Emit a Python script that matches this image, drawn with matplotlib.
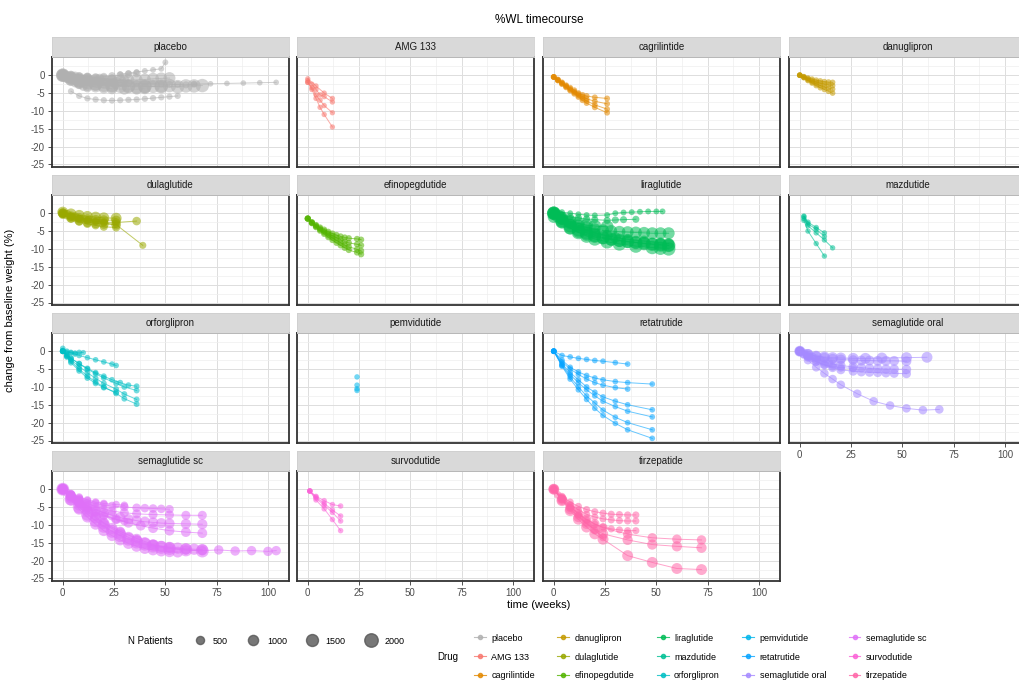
import numpy as np
import matplotlib.pyplot as plt
from matplotlib.lines import Line2D

plt.rcParams['font.family'] = ['Liberation Sans', 'DejaVu Sans']
plt.rcParams['axes.unicode_minus'] = False

drugs = ['placebo', 'AMG 133', 'cagrilintide', 'danuglipron', 'dulaglutide',
         'efinopegdutide', 'liraglutide', 'mazdutide', 'orforglipron', 'pemvidutide',
         'retatrutide', 'semaglutide oral', 'semaglutide sc', 'survodutide', 'tirzepatide']
drug_colors = ['#B0B0B0', '#F8766D', '#E38900', '#C49A00', '#99A800', '#53B400', '#00BC56',
               '#00C094', '#00BFC4', '#00B6EB', '#06A4FF', '#A58AFF', '#DF70F8', '#FB61D7', '#FF66A8']

# each drug: list of study arms -> weeks, %WL, N patients
placebo_weeks = [
    [0, 4, 8, 12, 16, 20, 24, 28, 32, 36, 40, 44, 48, 52, 56, 60, 64],
    [64, 72, 80, 88, 96, 104],
    [4, 8, 12, 16, 20, 24, 28, 32, 36, 40, 44, 48, 52, 56],
    [0, 2, 4, 8, 12, 16, 20, 26],
    [0, 4, 8, 12, 16, 20, 24, 28, 32, 36, 40, 44, 48, 52],
    [0, 4, 8, 12, 16, 20, 24, 30, 36, 40],
    [0, 6, 12, 18, 24, 30],
    [0, 4, 8, 12, 16, 20, 24, 28, 32, 36, 40, 44, 48, 52],
    [0, 2, 4, 6, 8, 10, 12],
    [28, 32, 36, 40, 44, 48, 50],
    [0, 8, 16, 24, 32, 40, 48, 56, 60, 64, 68],
    [0, 4, 8, 12, 16, 20, 24, 28, 32, 36],
]
placebo_wl = [
    [0, -0.6, -1.0, -1.3, -1.6, -1.8, -2.0, -2.1, -2.2, -2.3, -2.4, -2.4, -2.5, -2.6, -2.6, -2.7, -2.5],
    [-2.5, -2.4, -2.3, -2.2, -2.1, -2.0],
    [-4.5, -5.8, -6.5, -6.8, -7.0, -7.1, -7.0, -6.9, -6.8, -6.6, -6.4, -6.2, -6.0, -5.8],
    [0, -0.5, -0.8, -1.2, -1.5, -1.8, -2.0, -2.2],
    [0, -1.0, -1.6, -2.1, -2.5, -2.8, -3.0, -3.1, -3.2, -3.3, -3.2, -3.1, -3.0, -2.9],
    [0, -1.5, -2.3, -2.9, -3.3, -3.6, -3.8, -3.9, -3.9, -3.8],
    [0, -0.3, -0.6, -0.9, -1.1, -1.2],
    [0, -0.5, -0.9, -1.2, -1.3, -1.4, -1.5, -1.5, -1.4, -1.3, -1.2, -1.0, -0.9, -0.8],
    [0, -0.8, -1.5, -2.2, -2.7, -3.2, -3.6],
    [0.3, 0.6, 0.9, 1.2, 1.5, 1.8, 3.6],
    [0, -1.6, -2.4, -2.8, -3.0, -3.1, -3.2, -3.2, -3.0, -3.0, -2.9],
    [0.5, 0.2, -0.2, -0.4, -0.5, -0.4, -0.2, 0.0, 0.3, 0.5],
]
placebo_n = [300, 60, 150, 1500, 2000, 1200, 800, 1500, 600, 100, 2000, 400]

amg_weeks = [[0, 2, 4, 6, 8, 12], [0, 2, 4, 6, 8, 12], [0, 2, 4, 6, 8, 12], [0, 4, 8, 12]]
amg_wl = [[-1.5, -2.5, -4.0, -5.5, -6.0, -7.5],
          [-2.0, -3.5, -5.5, -7.0, -8.5, -10.5],
          [-2.0, -4.0, -6.5, -9.0, -11.0, -14.5],
          [-1.0, -3.0, -5.0, -6.5]]
amg_n = [20, 20, 20, 20]

cagri_weeks = [[0, 2, 4, 6, 8, 10, 12, 14, 16, 20, 26]] * 4
cagri_wl = [[-0.5, -1.2, -2.0, -2.8, -3.5, -4.2, -5.0, -5.5, -5.8, -6.2, -6.5],
            [-0.5, -1.3, -2.2, -3.0, -3.8, -4.6, -5.3, -6.0, -6.6, -7.3, -8.0],
            [-0.5, -1.4, -2.3, -3.2, -4.1, -4.9, -5.7, -6.5, -7.2, -8.3, -9.5],
            [-0.5, -1.5, -2.5, -3.4, -4.3, -5.2, -6.1, -7.0, -7.8, -9.0, -10.5]]
cagri_n = [90, 90, 90, 90]

danu_weeks = [[0, 2, 4, 6, 8, 10, 12, 14, 16]] * 4
danu_wl = [[0, -0.4, -0.8, -1.1, -1.4, -1.6, -1.8, -1.9, -2.0],
           [0, -0.5, -1.0, -1.5, -1.9, -2.2, -2.5, -2.7, -2.9],
           [0, -0.6, -1.3, -1.9, -2.4, -2.9, -3.3, -3.6, -3.9],
           [0, -0.7, -1.5, -2.2, -2.9, -3.5, -4.0, -4.5, -5.0]]
danu_n = [60, 60, 60, 60]

dula_weeks = [[0, 2, 4, 6, 8, 12, 16, 20, 26],
              [0, 4, 8, 12, 16, 20, 26, 36],
              [0, 4, 8, 12, 16, 20, 26],
              [0, 4, 8, 12, 16, 20, 26],
              [0, 4, 8, 12, 16, 20, 26, 39],
              [0, 4, 8, 12, 16, 20, 26]]
dula_wl = [[0, -0.4, -0.8, -1.1, -1.3, -1.6, -1.8, -1.9, -2.0],
           [0, -1.0, -1.6, -2.0, -2.3, -2.5, -2.6, -2.2],
           [0, -1.3, -2.0, -2.5, -2.8, -3.0, -3.2],
           [-0.5, -1.5, -2.4, -3.0, -3.4, -3.8, -4.0],
           [0, -0.8, -1.4, -1.9, -2.3, -2.7, -3.2, -9.0],
           [0.3, -0.2, -0.6, -0.9, -1.1, -1.3, -1.4]]
dula_n = [800, 600, 900, 500, 300, 1200]

efino_weeks = [[0, 2, 4, 6, 8, 10, 12, 14, 16, 18, 20, 24, 26]] * 4
efino_wl = [[-1.5, -2.5, -3.3, -4.0, -4.6, -5.2, -5.7, -6.1, -6.5, -6.8, -7.0, -7.2, -7.4],
            [-1.5, -2.6, -3.5, -4.3, -5.0, -5.7, -6.3, -6.9, -7.4, -7.9, -8.3, -8.7, -9.0],
            [-1.5, -2.7, -3.7, -4.6, -5.4, -6.2, -6.9, -7.6, -8.3, -8.9, -9.4, -10.1, -10.5],
            [-1.5, -2.8, -3.9, -4.9, -5.8, -6.7, -7.5, -8.3, -9.0, -9.7, -10.3, -11.0, -11.5]]
efino_n = [150, 150, 150, 150]

lira_weeks = [[0, 4, 8, 12, 16, 20, 24, 28, 32, 36, 40, 44, 48, 52, 56],
              [0, 4, 8, 12, 16, 20, 24, 28, 32, 36, 40, 44, 48, 52, 56],
              [0, 2, 4, 8, 12, 16, 20, 26],
              [0, 4, 8, 12, 16, 20, 26, 30, 36, 44, 52, 56],
              [0, 4, 8, 12, 16, 20, 26, 32, 40, 48, 52, 56],
              [0, 4, 8, 12, 16, 20, 26, 30, 34, 38, 42, 46, 50, 53],
              [0, 4, 8, 12, 16, 20, 26, 30, 34, 40],
              [0, 4, 8, 12, 16, 20, 24, 28, 32, 36, 40, 44, 48, 52, 56]]
lira_wl = [[0, -2.0, -3.5, -4.6, -5.5, -6.2, -6.8, -7.2, -7.6, -7.9, -8.2, -8.5, -8.7, -8.9, -9.0],
           [0, -1.5, -2.6, -3.4, -4.0, -4.5, -4.8, -5.0, -5.2, -5.3, -5.4, -5.5, -5.6, -5.6, -5.6],
           [0, -0.8, -1.4, -2.3, -2.9, -3.3, -3.6, -3.8],
           [0, -1.8, -3.0, -4.0, -4.8, -5.5, -6.3, -6.8, -7.3, -7.8, -8.3, -8.5],
           [0, -2.4, -4.1, -5.4, -6.4, -7.2, -8.0, -8.6, -9.2, -9.6, -9.8, -10.0],
           [0.5, 0.3, 0.0, -0.3, -0.5, -0.6, -0.5, 0.0, 0.2, 0.3, 0.4, 0.5, 0.5, 0.5],
           [0, -0.5, -1.0, -1.3, -1.6, -1.8, -2.0, -1.9, -1.8, -1.7],
           [-1.0, -2.5, -4.2, -5.2, -6.0, -6.6, -7.0, -7.4, -7.7, -8.0, -8.2, -8.4, -8.6, -8.8, -9.0]]
lira_n = [2000, 1500, 1800, 1200, 2000, 100, 300, 1600]

mazdu_weeks = [[2, 4, 8, 12], [2, 4, 8, 12, 16], [2, 4, 8, 12], [2, 4, 8, 12]]
mazdu_wl = [[-0.8, -2.5, -4.0, -5.5],
            [-1.5, -3.5, -5.5, -7.5, -9.7],
            [-2.0, -5.0, -8.5, -12.0],
            [-1.0, -3.0, -4.5, -6.5]]
mazdu_n = [30, 30, 30, 30]

orfor_weeks = [[0, 2, 4, 8, 12, 16, 20, 26, 30, 36],
               [0, 2, 4, 8, 12, 16, 20, 26, 30, 36],
               [0, 2, 4, 8, 12, 16, 20, 26, 30, 36],
               [0, 2, 4, 6, 8, 12, 16, 20, 24, 26],
               [0, 4, 8, 12, 16, 20, 24, 28, 32, 36],
               [0, 2, 4, 8, 12, 16, 20, 26],
               [0, 2, 4, 6, 8, 10]]
orfor_wl = [[0, -1.0, -2.0, -3.5, -5.0, -6.3, -7.5, -9.0, -10.0, -11.0],
            [0, -1.2, -2.4, -4.3, -6.0, -7.6, -9.0, -10.6, -12.0, -13.5],
            [0, -1.4, -2.8, -5.0, -7.0, -8.6, -10.0, -11.8, -13.3, -14.8],
            [0.8, 0.0, -0.5, -0.8, -1.2, -1.8, -2.4, -3.0, -3.6, -4.0],
            [0, -2.0, -3.5, -4.8, -6.0, -7.0, -8.0, -8.8, -9.5, -9.8],
            [0, -1.6, -3.2, -5.5, -7.5, -9.0, -10.2, -11.5],
            [0.2, -0.3, -0.3, -0.5, -0.3, -0.4]]
orfor_n = [100, 100, 100, 60, 80, 100, 30]

pemvi_weeks = [[24], [24], [24], [24]]
pemvi_wl = [[-7.2], [-9.5], [-10.5], [-11.0]]
pemvi_n = [40, 40, 40, 40]

reta_weeks = [[0, 4, 8, 12, 16, 20, 24, 30, 36],
              [0, 4, 8, 12, 16, 20, 24, 30, 36, 48],
              [0, 4, 8, 12, 16, 20, 24, 30, 36],
              [0, 4, 8, 12, 16, 20, 24, 30, 36, 48],
              [0, 4, 8, 12, 16, 20, 24, 30, 36, 48],
              [0, 4, 8, 12, 16, 20, 24, 30, 36, 48],
              [0, 4, 8, 12, 16, 20, 24, 30, 36, 48]]
reta_wl = [[0, -1.2, -1.6, -2.0, -2.3, -2.6, -2.8, -3.2, -3.6],
           [0, -2.5, -4.5, -5.8, -6.8, -7.5, -8.0, -8.5, -8.8, -9.2],
           [0, -3.0, -5.0, -6.5, -7.8, -8.8, -9.5, -10.2, -10.6],
           [0, -3.5, -6.0, -8.0, -10.0, -11.5, -12.8, -14.0, -15.0, -16.4],
           [0, -3.8, -6.6, -8.8, -10.8, -12.5, -14.0, -15.5, -16.8, -18.4],
           [0, -4.0, -7.2, -10.0, -12.5, -14.5, -16.5, -18.5, -20.0, -22.0],
           [0, -4.2, -7.8, -10.8, -13.5, -16.0, -18.0, -20.2, -22.0, -24.4]]
reta_n = [70, 70, 70, 70, 70, 70, 70]

semao_weeks = [[0, 4, 8, 12, 16, 20, 28, 36, 44, 52, 60, 68],
               [0, 2, 4, 6, 8, 10, 12, 14, 16, 20, 26, 30, 34, 38, 42, 46, 52],
               [0, 4, 8, 12, 16, 20, 26, 30, 34, 38, 42, 46, 52],
               [0, 4, 8, 12, 16, 20, 26, 32, 40, 52, 62],
               [0, 4, 8, 12, 16, 20, 26, 30, 34, 38, 42, 46, 52],
               [0, 2, 4, 8, 12, 16, 20, 26]]
semao_wl = [[0, -2.5, -4.5, -6.2, -7.8, -9.4, -11.9, -14.0, -15.2, -16.0, -16.5, -16.3],
            [0, -0.6, -1.2, -1.7, -2.2, -2.6, -3.0, -3.3, -3.6, -4.0, -4.4, -4.6, -4.8, -4.9, -5.0, -5.0, -5.1],
            [0, -0.8, -1.4, -1.8, -2.1, -2.3, -2.5, -2.6, -2.6, -2.7, -2.7, -2.7, -2.8],
            [0, -0.9, -1.4, -1.6, -1.8, -1.9, -2.0, -2.0, -1.9, -1.8, -1.7],
            [0, -1.5, -2.8, -3.8, -4.6, -5.2, -5.6, -5.8, -5.9, -6.0, -6.1, -6.2, -6.3],
            [0, -1.0, -1.8, -3.0, -3.8, -4.3, -4.6, -4.8]]
semao_n = [600, 800, 900, 1200, 700, 500]

semasc_weeks = [[0, 4, 8, 12, 16, 20, 28, 36, 44, 52, 60, 68, 76, 84, 92, 100, 104],
                [0, 4, 8, 12, 16, 20, 24, 28, 32, 36, 40, 44, 48, 52, 56, 60, 64, 68],
                [0, 4, 8, 12, 16, 20, 24, 28, 32, 36, 40, 44, 48, 52, 60, 68],
                [0, 4, 8, 12, 16, 20, 24, 30, 36, 40, 44, 48, 52],
                [0, 4, 8, 12, 16, 20, 26, 32, 38, 44, 52, 60, 68],
                [0, 2, 4, 6, 8, 10, 12, 16, 20, 26, 30],
                [0, 4, 8, 12, 16, 20, 24, 28, 32, 36, 40, 44, 48, 52, 60, 68],
                [0, 4, 8, 12, 16, 20, 26, 30],
                [0, 4, 8, 12, 16, 20, 24, 30, 36, 44, 52, 60, 68],
                [0, 4, 8, 12, 16, 20, 24, 28, 32, 36, 40, 44, 48, 52, 56]]
semasc_wl = [[0, -2.2, -4.0, -5.8, -7.6, -9.4, -11.8, -13.8, -15.5, -16.5, -17.0, -17.2, -17.0, -17.3, -17.2, -17.4, -17.2],
             [0, -2.4, -4.4, -6.3, -8.0, -9.6, -11.0, -12.3, -13.5, -14.4, -15.0, -15.6, -16.0, -16.3, -16.5, -16.7, -16.8, -16.9],
             [0, -1.8, -3.3, -4.6, -5.7, -6.6, -7.3, -7.9, -8.4, -8.8, -9.1, -9.3, -9.5, -9.6, -9.7, -9.8],
             [0, -1.5, -2.6, -3.4, -4.0, -4.4, -4.7, -5.0, -5.2, -5.3, -5.4, -5.5, -5.6],
             [0, -2.0, -3.6, -5.0, -6.2, -7.2, -8.4, -9.4, -10.2, -10.9, -11.6, -12.0, -12.3],
             [0, -1.0, -2.0, -3.0, -3.9, -4.7, -5.4, -6.6, -7.5, -8.5, -9.0],
             [0, -2.8, -5.0, -7.0, -8.8, -10.4, -11.8, -13.0, -14.0, -14.8, -15.4, -15.9, -16.3, -16.6, -17.0, -17.3],
             [0, -1.2, -2.2, -3.0, -3.6, -4.0, -4.3, -4.5],
             [0, -1.6, -2.9, -4.0, -4.9, -5.6, -6.1, -6.6, -6.9, -7.1, -7.2, -7.3, -7.3],
             [0, -3.0, -5.6, -7.8, -9.8, -11.6, -13.0, -14.2, -15.2, -16.0, -16.6, -17.0, -17.3, -17.5, -17.6]]
semasc_n = [800, 1300, 1000, 600, 900, 500, 1800, 400, 700, 1200]

survo_weeks = [[1, 4, 8, 12, 16]] * 4
survo_wl = [[-0.5, -2.0, -3.2, -4.3, -4.7],
            [-0.5, -2.5, -4.5, -6.5, -8.9],
            [-0.5, -3.0, -5.5, -8.5, -11.6],
            [-0.5, -2.2, -4.0, -5.8, -7.5]]
survo_n = [40, 40, 40, 40]

tirz_weeks = [[0, 4, 8, 12, 16, 20, 24, 36, 48, 60, 72],
              [0, 4, 8, 12, 16, 20, 24, 36, 48, 60, 72],
              [0, 4, 8, 12, 16, 20, 24, 36, 48, 60, 72],
              [0, 4, 8, 12, 16, 20, 24, 28, 32, 36, 40],
              [0, 4, 8, 12, 16, 20, 24, 28, 32, 36, 40],
              [0, 4, 8, 12, 16, 20, 24, 28, 32, 36, 40],
              [0, 2, 4, 8, 12, 16, 20, 24]]
tirz_wl = [[0, -3.2, -6.0, -8.4, -10.6, -12.5, -14.0, -18.6, -20.5, -22.2, -22.5],
           [0, -3.0, -5.6, -7.8, -9.7, -11.2, -12.5, -14.2, -15.5, -16.0, -16.4],
           [0, -2.6, -4.9, -6.8, -8.4, -9.7, -10.8, -12.6, -13.6, -14.0, -14.2],
           [0, -2.0, -3.6, -4.8, -5.7, -6.3, -6.7, -7.0, -7.1, -7.2, -7.2],
           [0, -2.4, -4.3, -5.8, -7.0, -7.8, -8.3, -8.6, -8.8, -8.9, -8.9],
           [0, -2.8, -5.0, -7.0, -8.6, -9.8, -10.6, -11.1, -11.4, -11.6, -11.6],
           [0, -1.6, -3.0, -5.4, -7.5, -9.5, -11.5, -13.5]]
tirz_n = [1200, 1000, 800, 300, 300, 300, 400]

drug_data = [
    (placebo_weeks, placebo_wl, placebo_n), (amg_weeks, amg_wl, amg_n),
    (cagri_weeks, cagri_wl, cagri_n), (danu_weeks, danu_wl, danu_n),
    (dula_weeks, dula_wl, dula_n), (efino_weeks, efino_wl, efino_n),
    (lira_weeks, lira_wl, lira_n), (mazdu_weeks, mazdu_wl, mazdu_n),
    (orfor_weeks, orfor_wl, orfor_n), (pemvi_weeks, pemvi_wl, pemvi_n),
    (reta_weeks, reta_wl, reta_n), (semao_weeks, semao_wl, semao_n),
    (semasc_weeks, semasc_wl, semasc_n), (survo_weeks, survo_wl, survo_n),
    (tirz_weeks, tirz_wl, tirz_n),
]

size_breaks = [500, 1000, 1500, 2000]
x_ticks = [0, 25, 50, 75, 100]
y_ticks = [0, -5, -10, -15, -20, -25]


def point_area(n):
    return 14 + 0.04 * np.asarray(n, dtype=float)


W, H = 1019, 680
fig = plt.figure(figsize=(W / 100, H / 100), dpi=100)

col_left = [52, 297, 543, 789]
row_top = [57, 195, 333, 471]
pw, ph, sh = 237, 110, 20

for i, drug in enumerate(drugs):
    r, c = divmod(i, 4)
    x0, y0 = col_left[c], row_top[r]
    ax = fig.add_axes([x0 / W, 1 - (y0 + ph) / H, pw / W, ph / H])
    weeks, wl, ns = drug_data[i]
    color = drug_colors[i]
    for w, v, n in zip(weeks, wl, ns):
        ax.plot(w, v, color=color, lw=0.7, alpha=0.6, zorder=2)
        ax.scatter(w, v, s=point_area([n] * len(w)), color=color, alpha=0.55,
                   edgecolors='none', zorder=3)
    ax.set_xlim(-5.25, 110.25)
    ax.set_ylim(-25.7, 5.1)
    ax.set_xticks(x_ticks)
    ax.set_xticks([12.5, 37.5, 62.5, 87.5], minor=True)
    ax.set_yticks(y_ticks)
    ax.set_yticks([2.5, -2.5, -7.5, -12.5, -17.5, -22.5], minor=True)
    ax.grid(which='major', color='#DDDDDD', lw=0.7)
    ax.grid(which='minor', color='#EEEEEE', lw=0.5)
    ax.set_axisbelow(True)
    for sp in ax.spines.values():
        sp.set_color('#333333')
        sp.set_linewidth(1.3)
    ax.tick_params(which='minor', length=0)
    ax.tick_params(which='major', length=3, width=0.6, color='#333333',
                   labelsize=7, labelcolor='#4D4D4D', pad=2)
    show_x = (r == 3) or (r == 2 and c == 3)
    if not show_x:
        ax.tick_params(axis='x', length=0, labelbottom=False)
    if c != 0:
        ax.tick_params(axis='y', length=0, labelleft=False)

    sax = fig.add_axes([x0 / W, 1 - y0 / H, pw / W, sh / H])
    sax.set_facecolor('#D9D9D9')
    sax.set_xticks([])
    sax.set_yticks([])
    for sp in sax.spines.values():
        sp.set_color('#CFCFCF')
        sp.set_linewidth(0.6)
    sax.text(0.5, 0.5, drug, ha='center', va='center', fontsize=7, color='#1A1A1A',
             transform=sax.transAxes)

fig.text(539 / W, 1 - 20 / H, '%WL timecourse', ha='center', va='center', fontsize=8.5)
fig.text(539 / W, 1 - 605 / H, 'time (weeks)', ha='center', va='center', fontsize=8)
fig.text(10 / W, 1 - 310 / H, 'change from baseline weight (%)', ha='center', va='center',
         rotation=90, fontsize=8)

# size legend
fig.text(150 / W, 1 - 641 / H, 'N Patients', ha='center', va='center', fontsize=7)
size_handles = [Line2D([], [], ls='', marker='o', color='#555555', alpha=0.8,
                       markersize=float(np.sqrt(point_area(b)))) for b in size_breaks]
fig.legend(size_handles, [str(b) for b in size_breaks], loc='center left',
           bbox_to_anchor=(186 / W, 1 - 641 / H), ncol=4, frameon=False,
           fontsize=6.5, handletextpad=0.9, columnspacing=2.2, handlelength=1.2)

# drug legend
fig.text(448 / W, 1 - 657 / H, 'Drug', ha='center', va='center', fontsize=7)
drug_handles = [Line2D([], [], color=col, lw=0.8, marker='o', markersize=3, alpha=0.8)
                for col in drug_colors]
fig.legend(drug_handles, drugs, loc='center left', bbox_to_anchor=(466 / W, 1 - 657 / H),
           ncol=5, frameon=False, fontsize=6.5, handletextpad=0.6, columnspacing=2.5,
           handlelength=1.3, labelspacing=1.1)

fig.savefig('out.png', dpi=100)
